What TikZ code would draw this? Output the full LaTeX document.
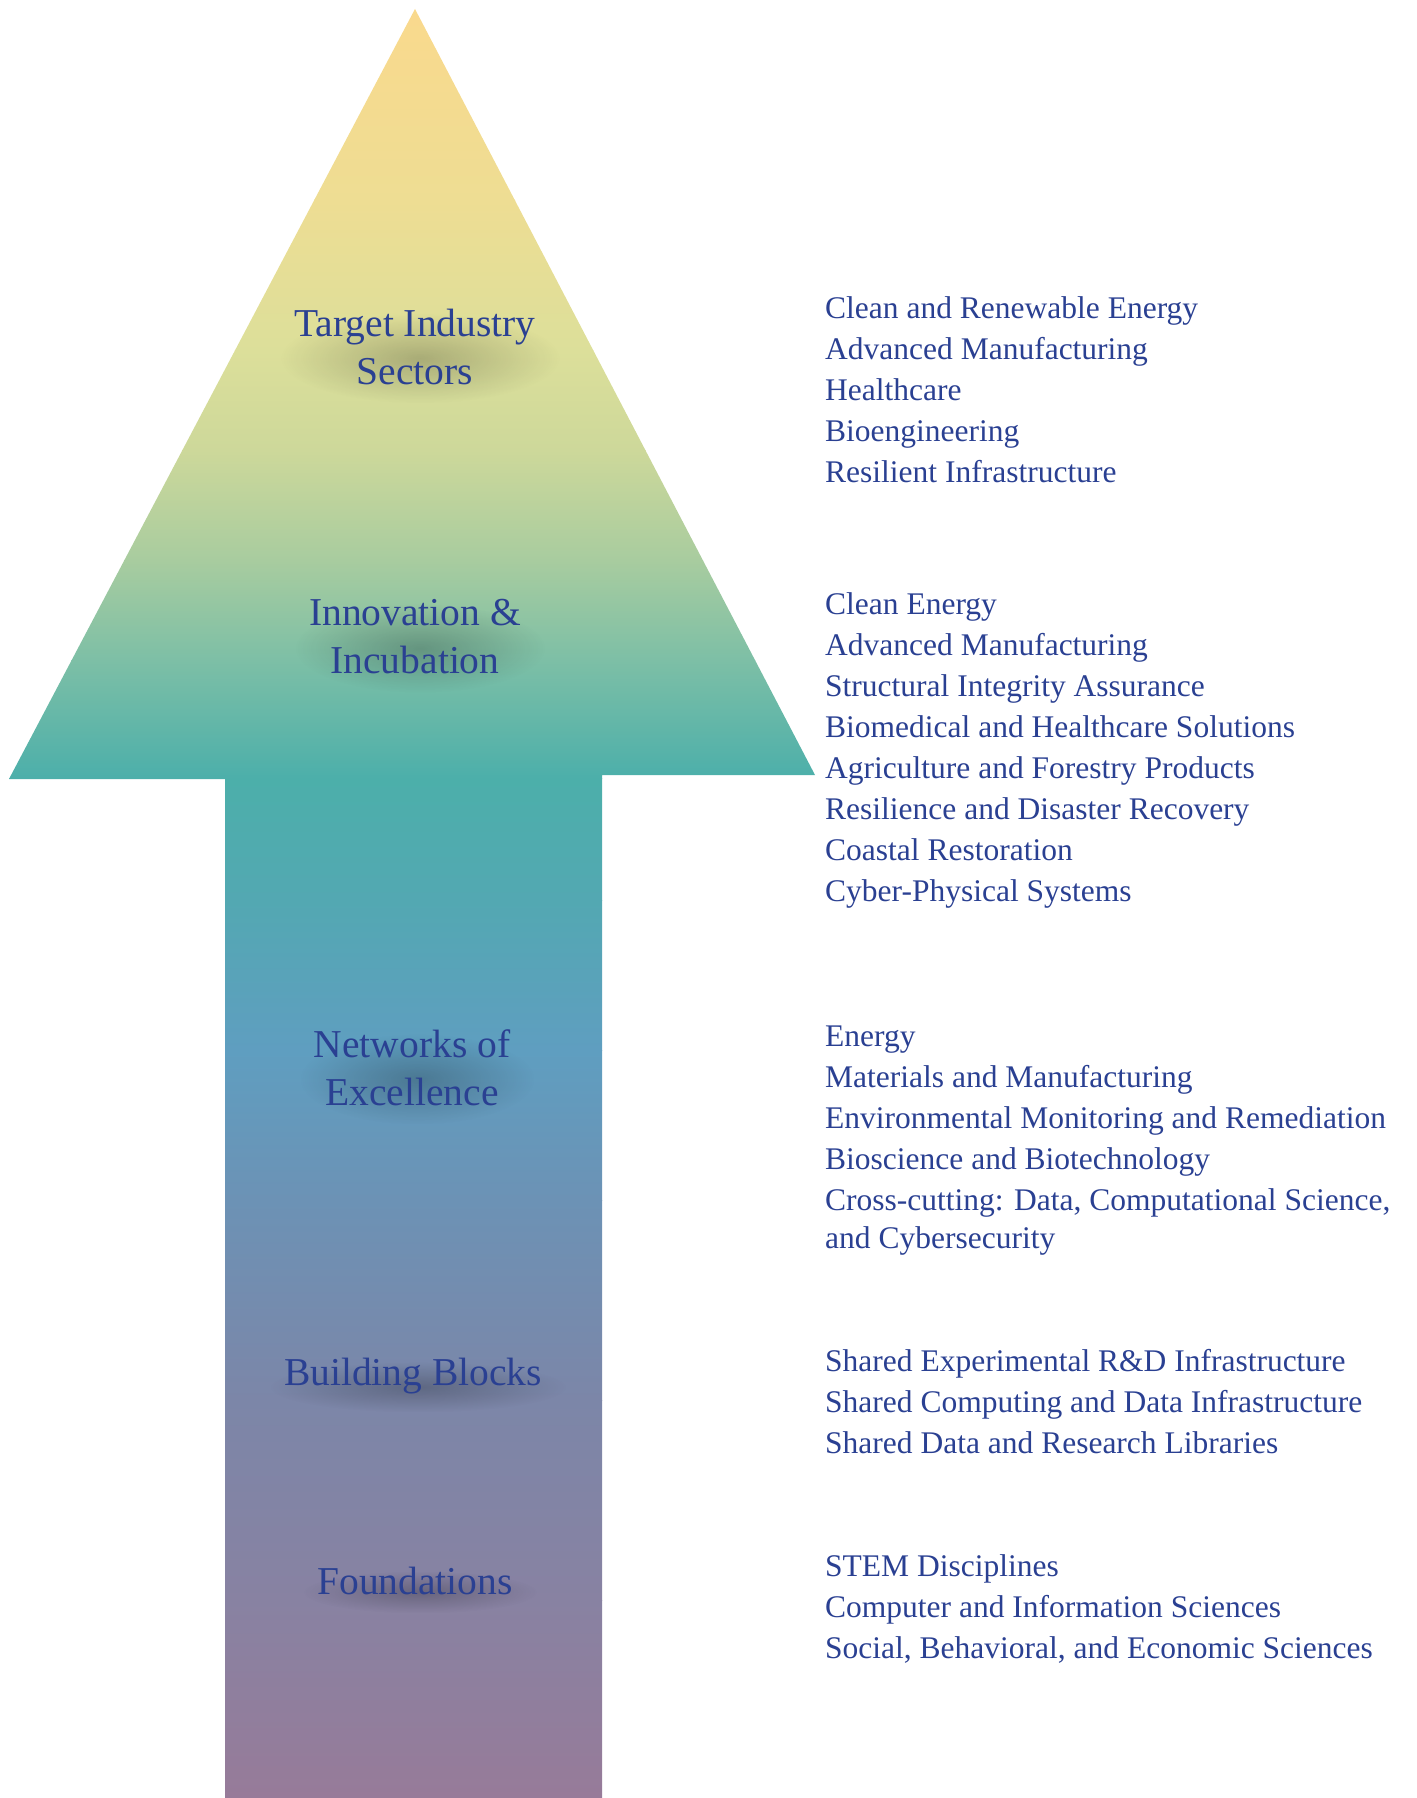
\documentclass[tikz,border=0pt]{standalone}
\usepackage{fontspec}
\setmainfont{Liberation Serif}
\usepackage{xcolor}
\usetikzlibrary{positioning, fadings}

\definecolor{textblue}{HTML}{2A4092}
\definecolor{s0}{HTML}{FAD98D}
\definecolor{s1}{HTML}{EEDD93}
\definecolor{s2}{HTML}{DCDF9A}
\definecolor{s3}{HTML}{CDD89A}
\definecolor{s4}{HTML}{A8CC9F}
\definecolor{s5}{HTML}{7DBFA6}
\definecolor{s6}{HTML}{4CAFAA}
\definecolor{s7}{HTML}{53A8B2}
\definecolor{s8}{HTML}{5F9EC0}
\definecolor{s9}{HTML}{6C92B5}
\definecolor{s10}{HTML}{7C86A8}
\definecolor{s11}{HTML}{8882A2}
\definecolor{s12}{HTML}{977B99}

\pgfdeclarelayer{back}
\pgfdeclarelayer{haze}
\pgfsetlayers{back,haze,main}

\tikzfading[name=softblob, inner color=transparent!25, outer color=transparent!100]

\tikzset{
  layerlabel/.style={align=center, inner sep=0pt, text=textblue, font=\fontsize{39.5}{48}\selectfont},
  itemlist/.style={align=left, anchor=north west, inner sep=0pt, text=textblue, font=\fontsize{31.5}{41}\selectfont},
}

% label with a soft shadow behind it
\newcommand{\layertext}[3]{%
  \node[layerlabel] (#1) at (#2) {#3};
  \begin{pgfonlayer}{haze}
    \fill[black, opacity=0.3, path fading=softblob] ([xshift=-14pt, yshift=-4pt]#1.north west) rectangle ([xshift=24pt, yshift=-18pt]#1.south east);
  \end{pgfonlayer}}

\begin{document}
\begin{tikzpicture}[x=1pt, y=-1pt]
    \useasboundingbox (0,0) rectangle (1416,1798);

    % Arrow with vertical gradient
    \begin{pgfonlayer}{back}
    \begin{scope}
        \clip (415,9) -- (815,775) -- (602,775) -- (602,1798) -- (225,1798) -- (225,779) -- (9,779) -- cycle;
        \foreach \ya/\yb/\ca/\cb in {0/200/s0/s1, 200/350/s1/s2, 350/450/s2/s3, 450/560/s3/s4, 560/660/s4/s5, 660/778/s5/s6, 778/900/s6/s7, 900/1050/s7/s8, 1050/1200/s8/s9, 1200/1400/s9/s10, 1400/1600/s10/s11, 1600/1798/s11/s12}
            \shade[top color=\ca, bottom color=\cb] (0,\ya) rectangle (830,\yb+0.5);
    \end{scope}
    \end{pgfonlayer}

    % Layer labels
    \layertext{target}{415,347}{Target Industry\\Sectors}
    \layertext{innov}{415,637}{Innovation \&\\Incubation}
    \layertext{networks}{412,1068}{Networks of\\Excellence}
    \layertext{blocks}{413,1376}{Building Blocks}
    \layertext{found}{415,1581}{Foundations}

    % Item lists
    \node[itemlist] (targetlist) at (825,296) {Clean and Renewable Energy\\Advanced Manufacturing\\Healthcare\\Bioengineering\\Resilient Infrastructure};
    \node[itemlist] (innovlist) at (825,592) {Clean Energy\\Advanced Manufacturing\\Structural Integrity Assurance\\Biomedical and Healthcare Solutions\\Agriculture and Forestry Products\\Resilience and Disaster Recovery\\Coastal Restoration\\Cyber-Physical Systems};
    \node[itemlist] (networkslist) at (825,1026) {Energy\\Materials and Manufacturing\\Environmental Monitoring and Remediation\\Bioscience and Biotechnology\\Cross-cutting: Data, Computational Science,\\[-3pt]and Cybersecurity};
    \node[itemlist] (blockslist) at (825,1349) {Shared Experimental R\&D Infrastructure\\Shared Computing and Data Infrastructure\\Shared Data and Research Libraries};
    \node[itemlist] (foundlist) at (825,1554) {STEM Disciplines\\Computer and Information Sciences\\Social, Behavioral, and Economic Sciences};
\end{tikzpicture}
\end{document}
